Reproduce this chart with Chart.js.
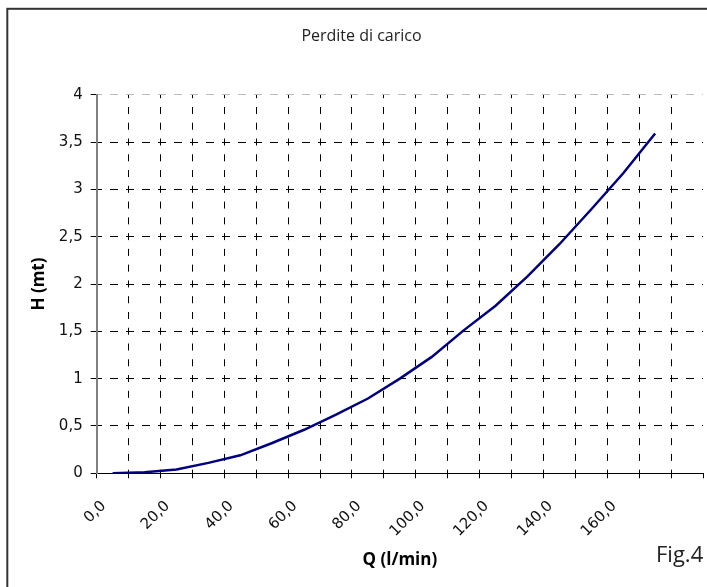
<!DOCTYPE html>
<html>
<head>
<meta charset="utf-8">
<title>Perdite di carico</title>
<script src="https://cdn.jsdelivr.net/npm/chart.js@4.4.1/dist/chart.umd.min.js"></script>
<style>
    html, body { margin: 0; padding: 0; background: #fff; }
    #wrap { width: 707px; height: 587px; }
</style>
</head>
<body>
<div id="wrap"><canvas id="lossChart" width="707" height="587"></canvas></div>
<script>
// Portata Q (l/min) - ultima categoria vuota come nell'originale
const qValues = [0, 10, 20, 30, 40, 50, 60, 70, 80, 90, 100, 110, 120, 130, 140, 150, 160, 170, null];
// Perdita di carico H (mt)
const hValues = [0, 0.01, 0.04, 0.11, 0.19, 0.32, 0.46, 0.62, 0.79, 1.00, 1.23, 1.51, 1.77, 2.08, 2.42, 2.79, 3.17, 3.59, null];
const yTicks = [0, 0.5, 1, 1.5, 2, 2.5, 3, 3.5, 4];

const chartTitle = 'Perdite di carico';
const xTitle = 'Q (l/min)';
const yTitle = 'H (mt)';
const figLabel = 'Fig.4';

// virgola decimale all'italiana
function fmtComma(v, digits) {
    const s = digits === undefined ? String(v) : v.toFixed(digits);
    return s.replace('.', ',');
}

// Cornice + scritta "Fig.4"
const framePlugin = {
    id: 'frame',
    afterDraw(chart) {
        const ctx = chart.ctx;
        ctx.save();
        ctx.strokeStyle = '#333';
        ctx.lineWidth = 2;
        ctx.strokeRect(7.3, 8.8, 900, 900);
        ctx.fillStyle = '#222';
        ctx.font = '22px "Open Sans"';
        ctx.textAlign = 'left';
        ctx.textBaseline = 'alphabetic';
        ctx.fillText(figLabel, 656, 562);
        ctx.restore();
    }
};

const ctx = document.getElementById('lossChart').getContext('2d');
const myChart = new Chart(ctx, {
    type: 'line',
    data: {
        labels: qValues,
        datasets: [{
            label: 'H',
            data: hValues,
            borderColor: '#000080',
            borderWidth: 2.5,
            pointRadius: 0,
            tension: 0,
            fill: false
        }]
    },
    options: {
        responsive: false,
        animation: false,
        layout: { padding: { top: 10, left: 20, right: 4, bottom: 0 } },
        plugins: {
            legend: { display: false },
            tooltip: { enabled: false },
            title: {
                display: true,
                text: chartTitle,
                color: '#222',
                font: { family: 'Open Sans', size: 16, weight: 'normal', lineHeight: 1.2 },
                padding: { top: 16.4, bottom: 49.1 }
            }
        },
        scales: {
            x: {
                type: 'category',
                offset: true,
                grid: {
                    offset: true,
                    // niente linea sul bordo destro dell'area
                    color: c => (c.type === 'tick' ? '#000' : 'rgba(0,0,0,0)'),
                    lineWidth: 1,
                    tickLength: 5,
                    tickColor: '#000',
                    tickBorderDash: []
                },
                // dash = tratteggio delle linee della griglia verticale
                border: { color: '#000', width: 1, dash: [7, 8.77], dashOffset: 3.5 },
                ticks: {
                    autoSkip: false,
                    maxRotation: 45,
                    minRotation: 45,
                    padding: 19,
                    labelOffset: -9,
                    color: '#111',
                    font: { family: 'DejaVu Sans', size: 15 },
                    callback: function (val, i) {
                        const q = qValues[i];
                        if (q === null || i % 2 !== 0) return '';
                        return fmtComma(q, 1);
                    }
                },
                title: {
                    display: true,
                    text: xTitle,
                    color: '#000',
                    font: { family: 'Open Sans', size: 17, weight: 'bold', lineHeight: 1.2 },
                    padding: { top: 0, bottom: 16.8 }
                },
                afterFit: function (scale) {
                    scale.height = 587 - 473.3;
                    scale.paddingLeft = 0;
                    scale.paddingRight = 0;
                }
            },
            y: {
                min: 0,
                max: 4,
                afterBuildTicks: function (scale) {
                    scale.ticks = yTicks.map(v => ({ value: v }));
                },
                grid: {
                    color: c => (c.tick && c.tick.value === 4 ? '#bbb' : '#000'),
                    lineWidth: 1,
                    tickLength: 6,
                    tickColor: '#000',
                    tickBorderDash: []
                },
                border: { color: '#808080', width: 2, dash: [8, 8], dashOffset: 4 },
                ticks: {
                    padding: 8,
                    color: '#111',
                    font: { family: 'DejaVu Sans', size: 15 },
                    callback: function (v) { return fmtComma(v); }
                },
                title: {
                    display: true,
                    text: yTitle,
                    color: '#000',
                    font: { family: 'Open Sans', size: 17, weight: 'bold', lineHeight: 1.2 },
                    padding: { top: 8.8, bottom: 0 }
                },
                afterFit: function (scale) { scale.width = 96.7 - 20; }
            }
        }
    },
    plugins: [framePlugin]
});
</script>
</body>
</html>
